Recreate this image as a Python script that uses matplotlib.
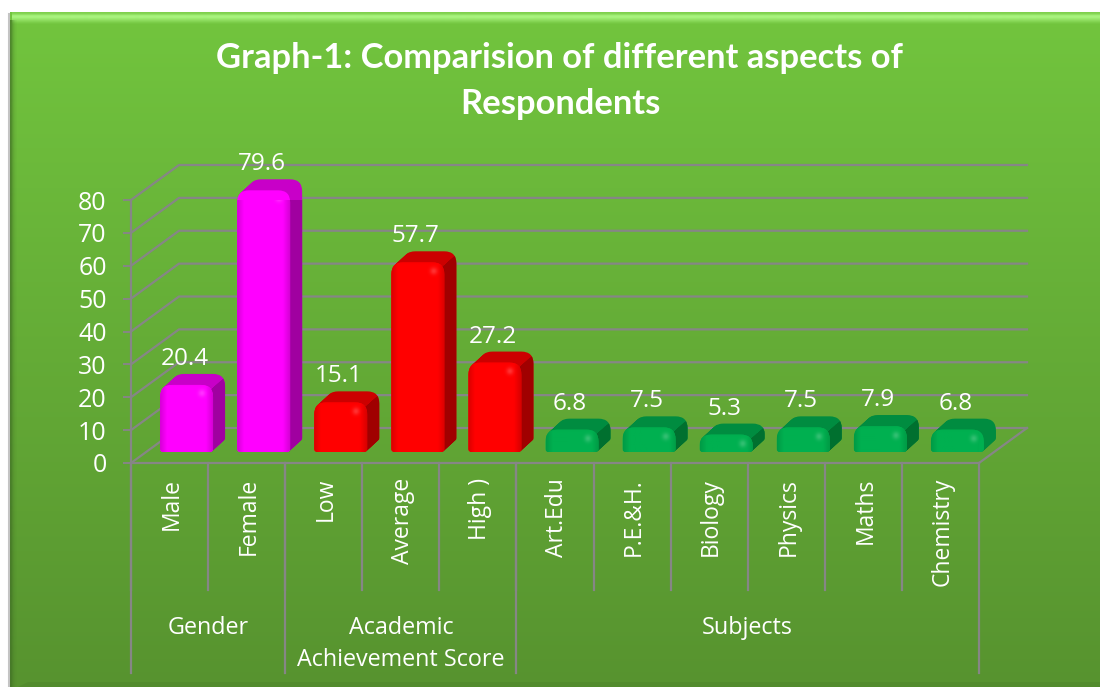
import numpy as np
import matplotlib
matplotlib.use("Agg")
import matplotlib.pyplot as plt
from matplotlib.patches import PathPatch, Polygon
from matplotlib.path import Path

plt.rcParams["font.family"] = ["Open Sans", "DejaVu Sans"]

title = "Graph-1: Comparision of different aspects of\nRespondents"
categories = ["Male", "Female", "Low", "Average", "High )", "Art.Edu", "P.E.&H.",
              "Biology", "Physics", "Maths", "Chemistry"]
values = [20.4, 79.6, 15.1, 57.7, 27.2, 6.8, 7.5, 5.3, 7.5, 7.9, 6.8]
groups = ["Gender", "Academic\nAchievement Score", "Subjects"]
group_sizes = [2, 3, 6]
yticks = [0, 10, 20, 30, 40, 50, 60, 70, 80]

W, H = 1100, 687
GRID = "#868686"
# front, edge, top, side shades for each group
shades = [("#FF00FF", "#D400D4", "#C800C8", "#A000A0"),
          ("#FF0000", "#D80000", "#CC0000", "#A00000"),
          ("#00B050", "#009A45", "#008C40", "#00702F")]

# plot front plane in pixels
x0, x1, y0, y80 = 131, 979, 463, 200
XU = 11 / (x1 - x0)    # category units per pixel
YU = 80 / (y0 - y80)   # value units per pixel
depth_x, depth_y = 48 * XU, 35 * YU   # floor depth
bar_dx, bar_dy = 17 * XU, 11 * YU     # where the bars stand on the floor
ext_x, ext_y = 12 * XU, 11 * YU       # bar extrusion
bar_w = 53 * XU


def rgb(c):
    return np.array(matplotlib.colors.to_rgb(c))


def bar_path(left, bottom, w, h):
    # box with big round top corners, small bottom ones (12 and 3 px)
    rx, ry = 12 * XU, min(12 * YU, h * 0.6)
    bx, by = 3 * XU, 3 * YU
    right, top = left + w, bottom + h
    verts = [(left + bx, bottom), (right - bx, bottom), (right, bottom), (right, bottom + by),
             (right, top - ry), (right, top), (right - rx, top),
             (left + rx, top), (left, top), (left, top - ry),
             (left, bottom + by), (left, bottom), (left + bx, bottom), (left + bx, bottom)]
    codes = [Path.MOVETO, Path.LINETO, Path.CURVE3, Path.CURVE3,
             Path.LINETO, Path.CURVE3, Path.CURVE3,
             Path.LINETO, Path.CURVE3, Path.CURVE3,
             Path.LINETO, Path.CURVE3, Path.CURVE3, Path.CLOSEPOLY]
    return Path(verts, codes)


fig = plt.figure(figsize=(W / 100, H / 100), dpi=100)
fig.patch.set_facecolor("white")

# background panel
bg = fig.add_axes([0, 0, 1, 1])
bg.set_axis_off()
grad = np.linspace(0, 1, 256)[:, None, None]
img = rgb("#72C53E") * (1 - grad) + rgb("#57932F") * grad
bg.imshow(img, extent=[10, W, H, 12], aspect="auto", zorder=1)
# bevel, top light strip
strip = np.zeros((12, 1, 4))
strip[:, :, :3] = rgb("#A8F47E")
strip[:, 0, 3] = [0.25, 0.35, 0.6, 0.9, 1, 0.95, 0.8, 0.65, 0.5, 0.35, 0.2, 0.08]
bg.imshow(strip, extent=[12, W, 24, 12], aspect="auto", zorder=2, interpolation="bilinear")
# left dark strip
side_strip = np.zeros((1, 8, 4))
side_strip[:, :, :3] = rgb("#3F6E24")
side_strip[0, :, 3] = [0.7, 0.6, 0.4, 0.25, 0.15, 0.08, 0.04, 0]
bg.imshow(side_strip, extent=[10, 18, H, 20], aspect="auto", zorder=2, interpolation="bilinear")
bg.add_patch(Polygon([(28, 682), (W, 682), (W, H), (18, H)], fc="#4F862C", alpha=0.6, ec="none", zorder=2))
bg.plot([9, 9], [14, H], color="#C4C4C4", lw=1.5, zorder=1)
bg.set_xlim(0, W)
bg.set_ylim(H, 0)

ax = fig.add_axes([x0 / W, 1 - y0 / H, (x1 - x0) / W, (y0 - y80) / H])
ax.patch.set_alpha(0)
for s in ["top", "right"]:
    ax.spines[s].set_visible(False)
for s in ["left", "bottom"]:
    ax.spines[s].set_color(GRID)
    ax.spines[s].set_linewidth(1.6)

# back wall, side wall and floor lines
for v in yticks:
    ax.plot([0, depth_x, 11 + depth_x], [v, v + depth_y, v + depth_y],
            color=GRID, lw=1.6, clip_on=False, zorder=1)
ax.plot([11, 11 + depth_x], [0, depth_y], color=GRID, lw=1.6, clip_on=False, zorder=1)

# bars
col = np.repeat(np.arange(len(groups)), group_sizes)
for i, v in enumerate(values):
    front, edge, top, side = shades[col[i]]
    left = i + 0.5 - bar_w / 2 + bar_dx
    right = left + bar_w
    h_top = bar_dy + v
    # side region, the rest of the extrusion is the top face
    region = Polygon([(right - 3 * XU, bar_dy - 5), (right + 40 * XU, bar_dy - 5),
                      (right + 40 * XU, h_top + 40 * YU),
                      (right - 3 * XU + 40 * XU, h_top - 6 * YU + 40 * YU * 0.92),
                      (right - 3 * XU, h_top - 6 * YU)], transform=ax.transData)
    for t in np.linspace(1, 0.05, 14):
        ax.add_patch(PathPatch(bar_path(left + ext_x * t, bar_dy + ext_y * t, bar_w, v),
                               fc=top, ec="none", clip_on=False, zorder=3))
    for t in np.linspace(1, 0.05, 14):
        p = PathPatch(bar_path(left + ext_x * t, bar_dy + ext_y * t, bar_w, v),
                      fc=side, ec="none", zorder=3.5)
        ax.add_patch(p)
        p.set_clip_path(region)
    face = PathPatch(bar_path(left, bar_dy, bar_w, v), fc=front, ec="none", clip_on=False, zorder=5)
    ax.add_patch(face)
    # rounded shading of the front face, with the little highlight top right
    nx, ny = int(bar_w / XU), max(int(v / YU), 4)
    xx, yy = np.meshgrid(np.arange(nx) + 0.5, np.arange(ny) + 0.5)
    d = np.minimum(np.minimum(xx, nx - xx), (yy + 4) * 1.2)
    m = np.clip(d / 7, 0, 1)[:, :, None]
    shade = rgb(edge) * (1 - m) + rgb(front) * m
    spot = np.exp(-(((xx - (nx - 11)) / 3.5) ** 2 + ((yy - 9) / 3.5) ** 2))[:, :, None]
    shade = shade * (1 - 0.2 * spot) + 0.2 * spot
    im = ax.imshow(shade, extent=[left, right, bar_dy, h_top],
                   aspect="auto", zorder=6, interpolation="bilinear")
    im.set_clip_path(face)
    ax.text(left + bar_w / 2 - 2 * XU, h_top + ext_y + 15 * YU, f"{v}", color="white",
            fontsize=17.5, ha="center", va="center", zorder=7)

ax.set_xlim(0, 11)
ax.set_ylim(0, 80)
ax.set_yticks(yticks)
ax.set_xticks([])
ax.tick_params(axis="y", colors="white", labelsize=18, length=5.5, width=1.4, color=GRID, pad=12)

# multi-level category axis
for i, c in enumerate(categories):
    ax.text(i + 0.5 + 2 * XU, -15 * YU, c, rotation=90, color="white", fontsize=16.5,
            ha="center", va="top", clip_on=False)
    ax.plot([i, i], [0, -127 * YU], color=GRID, lw=1.6, clip_on=False, zorder=1)
edges = np.concatenate([[0], np.cumsum(group_sizes)])
for e in edges:
    ax.plot([e, e], [0, -210 * YU], color=GRID, lw=1.6, clip_on=False, zorder=1)
for g, a, b in zip(groups, edges[:-1], edges[1:]):
    ax.text((a + b) / 2, -153 * YU, g, color="white", fontsize=16.8, ha="center", va="top",
            linespacing=1.47, clip_on=False)

fig.text(560 / W, 1 - 81 / H, title, color="white", fontsize=24.85, fontweight="bold",
         family="Lato", ha="center", va="center", linespacing=1.55)

fig.savefig("out.png", dpi=100)
